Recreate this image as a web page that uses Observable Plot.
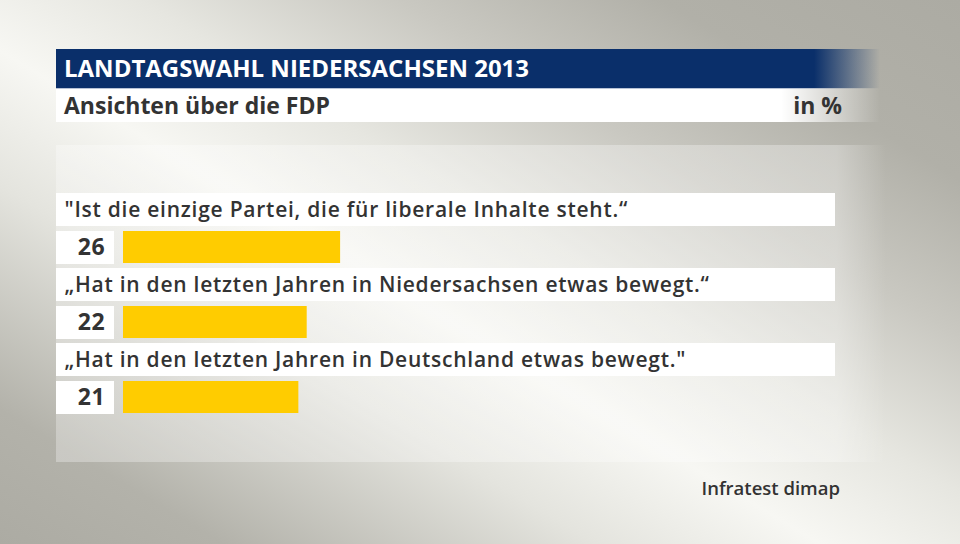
<!DOCTYPE html>
<html>
<head>
<meta charset="utf-8">
<script src="https://cdn.jsdelivr.net/npm/d3@7"></script>
<script src="https://cdn.jsdelivr.net/npm/@observablehq/plot@0.6"></script>
<style>
  html, body { margin: 0; padding: 0; }
  body { width: 960px; height: 544px; overflow: hidden; font-family: "Open Sans", sans-serif; }
  #stage { position: relative; width: 960px; height: 544px;
    background: linear-gradient(31deg, #acaba3 0%, #b3b2aa 12%, #e4e4de 32%, #f7f7f3 44%, #e6e6e0 56%, #c9c8c1 70%, #b1b0a8 84%, #acaba3 100%); }
  #panel { position: absolute; left: 56px; top: 145px; width: 830px; height: 317px;
    background: linear-gradient(to right, rgba(255,255,255,0.3) 0%, rgba(255,255,255,0.3) 94%, rgba(255,255,255,0) 100%); }
  #head { position: absolute; left: 56px; top: 49px; width: 824px; height: 39px;
    background: linear-gradient(to right, #0a2f6a 0%, #0a2f6a 92%, rgba(10,47,106,0) 100%); }
  #line { position: absolute; left: 56px; top: 88px; width: 824px; height: 1px;
    background: linear-gradient(to right, #b8c3d6 0%, #b8c3d6 90%, rgba(184,195,214,0) 100%); }
  #head span { position: absolute; left: 8px; top: 2px; color: #fff; font-weight: 700; font-size: 24px;
    white-space: nowrap; }
  #sub { position: absolute; left: 56px; top: 89px; width: 824px; height: 33px;
    background: linear-gradient(to right, #fff 0%, #fff 88%, rgba(255,255,255,0) 100%); }
  #sub .l { position: absolute; left: 8px; top: 0px; color: #333; font-weight: 700; font-size: 23px; white-space: nowrap; }
  #sub .r { position: absolute; right: 38px; top: 0px; color: #333; font-weight: 700; font-size: 23px; white-space: nowrap; }
  #src { position: absolute; right: 120px; top: 475px; color: #333; font-weight: 600; font-size: 18.5px; white-space: nowrap; }
  #chart { position: absolute; left: 0; top: 0; }
</style>
</head>
<body>
<div id="stage">
  <div id="panel"></div>
  <div id="head"><span id="title"></span></div>
  <div id="line"></div>
  <div id="sub"><span class="l" id="subtitle"></span><span class="r" id="unit"></span></div>
  <div id="src"></div>
  <div id="chart"></div>
</div>
<script>
const title = "LANDTAGSWAHL NIEDERSACHSEN 2013";
const subtitle = "Ansichten über die FDP";
const unit = "in %";
const source = "Infratest dimap";
const labels = [
  "\"Ist die einzige Partei, die für liberale Inhalte steht.\u201C",
  "\u201EHat in den letzten Jahren in Niedersachsen etwas bewegt.\u201C",
  "\u201EHat in den letzten Jahren in Deutschland etwas bewegt.\""
];
const values = [26, 22, 21];

document.getElementById("title").textContent = title;
document.getElementById("subtitle").textContent = subtitle;
document.getElementById("unit").textContent = unit;
document.getElementById("src").textContent = source;

const rows = labels.map((label, i) => ({label, value: values[i]}));

const chart = Plot.plot({
  width: 960,
  height: 544,
  marginLeft: 56,
  marginRight: 125,
  marginTop: 0,
  marginBottom: 0,
  style: {background: "transparent", fontFamily: "Open Sans, sans-serif", letterSpacing: "0.75px"},
  x: {domain: [0, 100], range: [123, 958], axis: null},
  y: {type: "band", domain: labels, range: [193, 418], padding: 0, round: false, axis: null},
  marks: [
    Plot.cell(rows, {y: "label", fill: "white", insetBottom: 42}),
    Plot.cell(rows, {y: "label", fill: "white", insetTop: 38, insetBottom: 4, insetRight: 721}),
    Plot.barX(rows, {y: "label", x: "value", fill: "#ffcc00", insetTop: 38, insetBottom: 5}),
    Plot.text(rows, {y: "label", text: "label", frameAnchor: "left", dx: 8, dy: -20.5,
      textAnchor: "start", fontSize: 21, fontWeight: 600, fill: "#333"}),
    Plot.text(rows, {y: "label", text: d => String(d.value), frameAnchor: "left", dx: 49, dy: 17,
      textAnchor: "end", fontSize: 23, fontWeight: 700, fill: "#333"})
  ]
});
document.getElementById("chart").appendChild(chart);
</script>
</body>
</html>
